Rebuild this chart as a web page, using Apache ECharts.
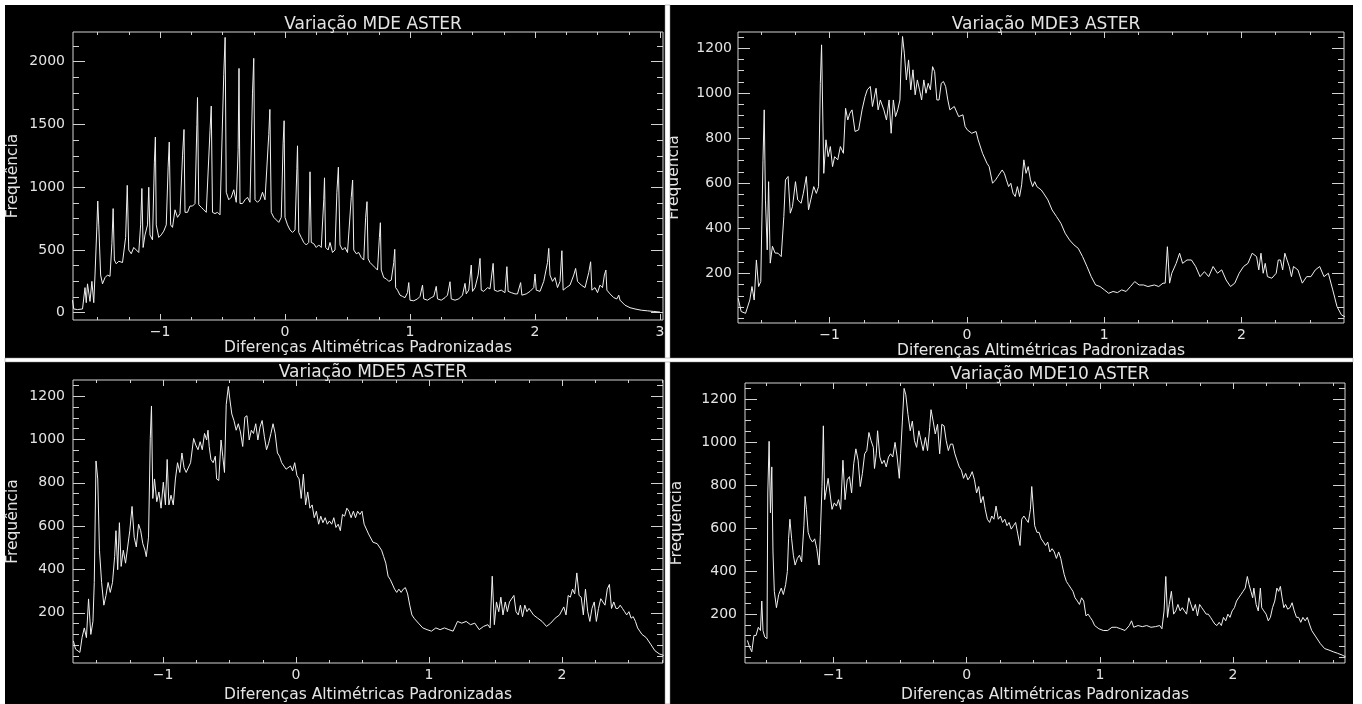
<!DOCTYPE html>
<html>
<head>
<meta charset="utf-8">
<script src="https://cdn.jsdelivr.net/npm/echarts@6/dist/echarts.min.js"></script>
<style>
  html, body { margin: 0; padding: 0; background: #fff; }
  #chart { width: 1362px; height: 704px; }
</style>
</head>
<body>
<div id="chart"></div>
<script>
// Histograms of standardised elevation differences for the ASTER DEM variants.
const titles = ['Variação MDE ASTER', 'Variação MDE3 ASTER', 'Variação MDE5 ASTER', 'Variação MDE10 ASTER'];
const xName = 'Diferenças Altimétricas Padronizadas';
const yName = 'Frequência';

// tick labels
const xTicksTop = [-1, 0, 1, 2, 3];
const xTicksBottom = [-1, 0, 1, 2];
const yTicksMde = [0, 500, 1000, 1500, 2000];
const yTicksFiltered = [200, 400, 600, 800, 1000, 1200];

// [difference, frequency]
const mdeAster = [
  [-1.70,100],[-1.69,30],[-1.66,25],[-1.62,30],[-1.60,200],[-1.59,80],[-1.58,230],[-1.56,90],
  [-1.545,250],[-1.53,80],[-1.52,300],[-1.505,690],[-1.498,890],[-1.49,700],[-1.475,300],[-1.46,230],
  [-1.44,280],[-1.42,300],[-1.40,290],[-1.385,550],[-1.375,830],[-1.365,420],[-1.35,390],[-1.33,410],
  [-1.30,400],[-1.275,600],[-1.262,1015],[-1.25,500],[-1.23,470],[-1.21,520],[-1.19,500],[-1.17,480],
  [-1.155,700],[-1.145,990],[-1.135,520],[-1.12,620],[-1.10,700],[-1.09,1000],[-1.08,620],[-1.06,580],
  [-1.045,1200],[-1.037,1400],[-1.03,700],[-1.01,600],[-0.99,620],[-0.97,650],[-0.95,700],[-0.935,1160],
  [-0.926,1360],[-0.915,700],[-0.90,680],[-0.88,820],[-0.86,760],[-0.84,790],[-0.82,1250],[-0.808,1460],
  [-0.80,800],[-0.78,800],[-0.76,850],[-0.74,850],[-0.72,870],[-0.705,1500],[-0.70,1715],[-0.69,860],
  [-0.67,840],[-0.65,820],[-0.63,800],[-0.60,1450],[-0.59,1647],[-0.58,800],[-0.56,790],[-0.54,800],
  [-0.52,780],[-0.49,1900],[-0.479,2194],[-0.47,960],[-0.45,900],[-0.43,920],[-0.41,980],[-0.39,880],
  [-0.375,1300],[-0.368,1947],[-0.36,870],[-0.34,870],[-0.32,900],[-0.30,920],[-0.28,880],[-0.26,1750],
  [-0.25,2027],[-0.24,900],[-0.22,880],[-0.20,900],[-0.18,960],[-0.16,900],[-0.13,1420],[-0.121,1620],
  [-0.11,800],[-0.09,760],[-0.07,740],[-0.05,720],[-0.03,760],[-0.015,1350],[-0.007,1530],[0.00,760],
  [0.02,700],[0.04,660],[0.06,640],[0.08,660],[0.095,1150],[0.10,1330],[0.11,640],[0.13,600],
  [0.15,560],[0.17,540],[0.19,560],[0.20,1123],[0.21,560],[0.23,550],[0.25,520],[0.27,540],
  [0.29,520],[0.31,900],[0.316,1075],[0.325,520],[0.345,500],[0.36,560],[0.38,480],[0.40,500],
  [0.415,960],[0.427,1160],[0.44,540],[0.46,500],[0.48,520],[0.50,480],[0.53,920],[0.541,1057],
  [0.55,500],[0.57,470],[0.59,480],[0.61,440],[0.63,420],[0.645,760],[0.656,885],[0.665,430],
  [0.68,400],[0.70,380],[0.72,360],[0.74,340],[0.755,600],[0.763,717],[0.77,340],[0.79,280],
  [0.81,270],[0.83,250],[0.85,260],[0.87,400],[0.878,505],[0.885,200],[0.90,180],[0.92,140],
  [0.94,130],[0.96,120],[0.98,160],[0.99,240],[1.00,100],[1.03,95],[1.06,110],[1.08,130],
  [1.10,220],[1.11,110],[1.14,100],[1.17,120],[1.19,130],[1.21,210],[1.22,110],[1.25,100],
  [1.28,120],[1.30,140],[1.32,247],[1.33,110],[1.36,100],[1.39,110],[1.42,140],[1.44,234],
  [1.45,150],[1.47,180],[1.49,380],[1.50,170],[1.52,200],[1.545,300],[1.56,433],[1.57,180],
  [1.59,170],[1.62,200],[1.64,190],[1.665,393],[1.675,180],[1.70,170],[1.73,180],[1.76,160],
  [1.775,367],[1.785,170],[1.81,160],[1.84,150],[1.86,150],[1.885,240],[1.895,140],[1.93,150],
  [1.96,170],[1.99,200],[2.00,308],[2.01,180],[2.04,170],[2.07,250],[2.10,400],[2.11,513],
  [2.12,300],[2.14,250],[2.16,280],[2.18,200],[2.20,250],[2.215,494],[2.225,180],[2.25,200],
  [2.28,220],[2.31,300],[2.325,353],[2.34,250],[2.37,220],[2.40,200],[2.43,320],[2.445,406],
  [2.455,180],[2.48,200],[2.50,160],[2.52,220],[2.54,200],[2.555,300],[2.567,340],[2.575,180],
  [2.60,150],[2.63,120],[2.655,110],[2.67,140],[2.68,100],[2.72,60],[2.76,40],[2.80,30],
  [2.85,20],[2.90,15],[2.95,10],[3.00,5]
];

const mde3Aster = [
  [-1.667,89],[-1.645,30],[-1.613,22],[-1.582,81],[-1.566,141],[-1.550,81],[-1.534,259],[-1.518,141],
  [-1.502,163],[-1.486,700],[-1.477,926],[-1.468,525],[-1.455,304],[-1.445,607],[-1.433,245],[-1.417,320],
  [-1.398,290],[-1.376,289],[-1.353,274],[-1.334,452],[-1.322,615],[-1.303,630],[-1.287,467],[-1.271,496],
  [-1.249,607],[-1.233,526],[-1.208,511],[-1.192,555],[-1.170,630],[-1.154,482],[-1.138,526],[-1.116,585],
  [-1.097,555],[-1.081,585],[-1.068,1044],[-1.059,1215],[-1.043,644],[-1.027,793],[-1.011,718],[-0.995,763],
  [-0.979,674],[-0.964,718],[-0.941,704],[-0.922,763],[-0.900,733],[-0.884,933],[-0.868,881],[-0.853,911],
  [-0.837,926],[-0.815,830],[-0.789,837],[-0.764,926],[-0.742,985],[-0.726,1015],[-0.704,1030],[-0.688,941],
  [-0.662,1022],[-0.647,926],[-0.631,970],[-0.605,926],[-0.586,881],[-0.567,970],[-0.552,822],[-0.536,970],
  [-0.520,896],[-0.504,926],[-0.488,970],[-0.479,1148],[-0.469,1252],[-0.456,1178],[-0.441,1059],[-0.425,1148],
  [-0.409,1015],[-0.393,1104],[-0.377,993],[-0.361,1059],[-0.345,1015],[-0.330,970],[-0.314,1059],[-0.298,1000],
  [-0.282,1044],[-0.266,1015],[-0.250,1118],[-0.235,1096],[-0.219,970],[-0.203,970],[-0.187,1044],[-0.171,1052],
  [-0.155,1030],[-0.139,970],[-0.124,926],[-0.092,941],[-0.060,896],[-0.029,904],[-0.013,852],[0.003,837],
  [0.035,822],[0.067,830],[0.082,793],[0.114,733],[0.146,689],[0.162,674],[0.187,600],[0.209,615],
  [0.225,630],[0.257,659],[0.273,644],[0.288,615],[0.304,585],[0.320,600],[0.336,556],[0.352,541],
  [0.368,585],[0.384,541],[0.399,593],[0.415,704],[0.431,644],[0.447,674],[0.463,615],[0.479,585],
  [0.494,607],[0.510,585],[0.542,570],[0.558,556],[0.590,526],[0.621,481],[0.653,452],[0.685,422],
  [0.716,378],[0.748,348],[0.780,326],[0.811,311],[0.843,274],[0.875,230],[0.906,185],[0.938,148],
  [0.970,141],[1.002,126],[1.033,111],[1.065,119],[1.097,114],[1.128,126],[1.160,119],[1.192,141],
  [1.223,163],[1.255,148],[1.287,148],[1.319,141],[1.366,148],[1.398,141],[1.429,156],[1.445,156],
  [1.461,318],[1.477,156],[1.493,200],[1.525,244],[1.550,289],[1.572,244],[1.604,259],[1.636,259],
  [1.667,230],[1.699,185],[1.731,207],[1.762,185],[1.794,230],[1.826,200],[1.857,215],[1.889,170],
  [1.921,141],[1.952,156],[1.984,200],[2.016,230],[2.048,244],[2.079,289],[2.111,274],[2.127,215],
  [2.143,289],[2.159,200],[2.174,244],[2.190,185],[2.222,178],[2.254,200],[2.269,259],[2.285,259],
  [2.301,215],[2.317,289],[2.333,259],[2.349,230],[2.365,185],[2.380,230],[2.412,215],[2.444,156],
  [2.476,185],[2.507,185],[2.539,215],[2.571,230],[2.602,185],[2.634,200],[2.666,126],[2.697,52],
  [2.729,15],[2.754,7]
];

const mde5Aster = [
  [-1.674,70],[-1.658,32],[-1.625,17],[-1.609,85],[-1.592,130],[-1.576,85],[-1.560,264],[-1.543,100],
  [-1.527,160],[-1.517,340],[-1.504,901],[-1.491,818],[-1.478,489],[-1.462,340],[-1.445,235],[-1.429,280],
  [-1.413,340],[-1.397,294],[-1.380,340],[-1.364,459],[-1.354,579],[-1.341,399],[-1.328,616],[-1.315,414],
  [-1.299,489],[-1.282,429],[-1.266,504],[-1.250,579],[-1.233,691],[-1.217,549],[-1.201,504],[-1.184,609],
  [-1.168,579],[-1.152,519],[-1.136,489],[-1.126,459],[-1.109,549],[-1.096,1005],[-1.087,1155],[-1.077,728],
  [-1.064,818],[-1.047,713],[-1.031,758],[-1.015,683],[-0.998,803],[-0.982,698],[-0.969,908],[-0.956,698],
  [-0.940,743],[-0.923,698],[-0.907,818],[-0.891,893],[-0.874,848],[-0.858,938],[-0.842,870],[-0.826,848],
  [-0.793,893],[-0.770,1005],[-0.754,975],[-0.737,953],[-0.721,990],[-0.705,953],[-0.688,1028],[-0.672,998],
  [-0.662,1043],[-0.653,968],[-0.640,908],[-0.623,893],[-0.607,923],[-0.597,818],[-0.581,811],[-0.564,998],
  [-0.551,923],[-0.538,848],[-0.525,1162],[-0.509,1245],[-0.496,1178],[-0.483,1118],[-0.467,1088],[-0.450,1043],
  [-0.434,1073],[-0.418,1035],[-0.401,968],[-0.385,1103],[-0.369,1110],[-0.352,998],[-0.336,1043],[-0.320,1028],
  [-0.303,1073],[-0.287,998],[-0.271,1058],[-0.255,1088],[-0.238,1013],[-0.222,953],[-0.206,983],[-0.189,1028],
  [-0.173,1073],[-0.157,1028],[-0.140,938],[-0.124,923],[-0.108,893],[-0.075,863],[-0.042,878],[-0.026,855],
  [-0.010,893],[0.007,833],[0.023,818],[0.039,728],[0.055,840],[0.072,698],[0.088,758],[0.104,683],
  [0.121,698],[0.137,639],[0.153,669],[0.170,609],[0.186,646],[0.202,616],[0.219,639],[0.235,609],
  [0.251,624],[0.268,609],[0.284,639],[0.300,594],[0.317,609],[0.333,579],[0.349,654],[0.365,646],
  [0.382,683],[0.398,669],[0.414,639],[0.431,669],[0.447,639],[0.463,669],[0.480,654],[0.496,669],
  [0.512,609],[0.545,564],[0.578,526],[0.610,519],[0.643,489],[0.659,459],[0.675,429],[0.692,369],
  [0.708,354],[0.741,309],[0.757,294],[0.773,309],[0.790,294],[0.806,309],[0.822,316],[0.839,287],
  [0.855,235],[0.871,190],[0.887,175],[0.920,152],[0.953,130],[0.985,122],[1.018,115],[1.051,130],
  [1.083,122],[1.116,130],[1.149,122],[1.181,115],[1.214,160],[1.246,152],[1.279,160],[1.312,145],
  [1.344,152],[1.377,122],[1.410,137],[1.442,145],[1.459,130],[1.475,369],[1.491,145],[1.507,250],
  [1.524,205],[1.540,272],[1.556,190],[1.573,250],[1.589,205],[1.605,250],[1.638,280],[1.654,205],
  [1.671,190],[1.687,235],[1.703,182],[1.720,235],[1.736,205],[1.752,220],[1.785,190],[1.817,175],
  [1.850,160],[1.883,137],[1.915,152],[1.948,175],[1.981,190],[2.013,227],[2.030,190],[2.046,280],
  [2.062,272],[2.079,309],[2.095,287],[2.111,384],[2.128,280],[2.144,272],[2.160,190],[2.176,309],
  [2.193,205],[2.209,160],[2.225,220],[2.242,250],[2.258,160],[2.274,220],[2.291,265],[2.307,250],
  [2.323,235],[2.340,309],[2.356,331],[2.372,220],[2.389,250],[2.405,220],[2.421,220],[2.437,235],
  [2.454,220],[2.470,205],[2.486,190],[2.503,205],[2.519,175],[2.535,182],[2.552,160],[2.568,130],
  [2.601,100],[2.633,85],[2.666,55],[2.698,25],[2.731,10],[2.764,3]
];

const mde10Aster = [
  [-1.645,78],[-1.629,48],[-1.612,25],[-1.596,101],[-1.580,101],[-1.563,139],[-1.547,124],[-1.537,261],
  [-1.528,124],[-1.515,94],[-1.498,86],[-1.492,763],[-1.482,1003],[-1.472,671],[-1.462,884],[-1.453,489],
  [-1.443,306],[-1.427,230],[-1.410,291],[-1.391,321],[-1.375,291],[-1.358,337],[-1.345,398],[-1.336,550],
  [-1.326,641],[-1.313,550],[-1.300,474],[-1.287,428],[-1.270,459],[-1.254,474],[-1.238,443],[-1.221,611],
  [-1.212,747],[-1.202,687],[-1.189,580],[-1.173,550],[-1.156,535],[-1.140,550],[-1.124,504],[-1.107,428],
  [-1.098,565],[-1.085,793],[-1.075,1075],[-1.065,732],[-1.052,732],[-1.039,831],[-1.026,824],[-1.010,687],
  [-0.993,717],[-0.977,702],[-0.961,732],[-0.945,687],[-0.928,915],[-0.912,732],[-0.896,824],[-0.879,839],
  [-0.863,763],[-0.847,899],[-0.831,968],[-0.814,915],[-0.798,793],[-0.782,854],[-0.765,945],[-0.749,960],
  [-0.733,1044],[-0.717,1006],[-0.700,975],[-0.691,877],[-0.678,945],[-0.668,1052],[-0.651,930],[-0.635,899],
  [-0.619,915],[-0.603,884],[-0.586,930],[-0.570,945],[-0.554,930],[-0.537,998],[-0.521,930],[-0.505,831],
  [-0.495,945],[-0.482,1097],[-0.469,1249],[-0.456,1219],[-0.440,1128],[-0.423,1052],[-0.407,1097],[-0.391,1006],
  [-0.375,975],[-0.358,1052],[-0.342,1006],[-0.326,960],[-0.309,1021],[-0.293,960],[-0.277,1067],[-0.267,1150],
  [-0.251,1097],[-0.235,1037],[-0.218,1082],[-0.202,945],[-0.186,1082],[-0.169,1075],[-0.153,1006],[-0.137,960],
  [-0.121,990],[-0.104,990],[-0.088,945],[-0.072,915],[-0.055,884],[-0.039,869],[-0.023,831],[-0.007,854],
  [0.010,824],[0.026,839],[0.042,862],[0.059,824],[0.075,763],[0.091,793],[0.107,717],[0.124,747],
  [0.140,687],[0.156,641],[0.173,626],[0.189,656],[0.205,641],[0.221,702],[0.238,641],[0.254,656],
  [0.270,626],[0.287,641],[0.303,611],[0.319,626],[0.335,595],[0.352,611],[0.368,626],[0.384,573],
  [0.401,519],[0.414,641],[0.430,656],[0.446,641],[0.463,626],[0.479,687],[0.489,793],[0.498,717],
  [0.511,611],[0.528,580],[0.544,580],[0.560,550],[0.577,535],[0.593,519],[0.609,535],[0.625,489],
  [0.642,504],[0.658,489],[0.674,459],[0.691,489],[0.707,459],[0.717,428],[0.733,383],[0.749,352],
  [0.765,337],[0.782,321],[0.798,306],[0.814,276],[0.831,261],[0.847,245],[0.863,276],[0.879,261],
  [0.896,192],[0.912,200],[0.928,185],[0.945,169],[0.961,147],[0.993,132],[1.026,124],[1.059,124],
  [1.091,139],[1.124,139],[1.156,132],[1.189,124],[1.221,147],[1.238,169],[1.254,139],[1.287,147],
  [1.319,142],[1.352,147],[1.384,139],[1.417,142],[1.450,147],[1.466,132],[1.482,215],[1.495,375],
  [1.508,185],[1.521,245],[1.537,306],[1.554,200],[1.570,215],[1.586,245],[1.603,215],[1.619,230],
  [1.635,215],[1.651,200],[1.668,276],[1.684,245],[1.700,215],[1.717,245],[1.733,192],[1.749,245],
  [1.765,230],[1.782,215],[1.798,200],[1.814,200],[1.831,185],[1.847,169],[1.863,154],[1.879,147],
  [1.896,162],[1.912,147],[1.928,185],[1.945,169],[1.961,200],[1.977,185],[1.993,215],[2.010,230],
  [2.026,261],[2.042,276],[2.059,291],[2.075,306],[2.091,321],[2.107,375],[2.120,337],[2.134,306],
  [2.147,276],[2.156,321],[2.173,245],[2.189,215],[2.205,321],[2.215,230],[2.231,215],[2.248,200],
  [2.264,169],[2.280,185],[2.296,230],[2.313,261],[2.329,321],[2.342,306],[2.355,329],[2.368,276],
  [2.381,230],[2.394,245],[2.410,223],[2.427,230],[2.443,253],[2.459,215],[2.476,185],[2.492,185],
  [2.508,162],[2.524,185],[2.541,169],[2.557,185],[2.573,154],[2.590,124],[2.622,94],[2.655,63],
  [2.687,40],[2.720,33],[2.752,25],[2.785,18],[2.818,10],[2.844,2]
];

const INK = '#e4e4e4';
const FRAME = '#d2d2d2';
const FONT = 'DejaVu Sans';

// plot frames, axis ranges and ticks of the four histograms
const panels = [
  { title: titles[0], titleY: 21, data: mdeAster, box: [73, 32, 590, 288],
    x: [-1.696, 3.024], y: [-58, 2237], xTicks: xTicksTop, yTicks: yTicksMde, yMinor: 125,
    xNameGap: 1, yNameGap: 52, yLabelMargin: 8 },
  { title: titles[1], titleY: 21, data: mde3Aster, box: [738, 32, 606, 291],
    x: [-1.668, 2.748], y: [-21, 1272], xTicks: xTicksBottom, yTicks: yTicksFiltered, yMinor: 50,
    xNameGap: 4, yNameGap: 56, yLabelMargin: 6 },
  { title: titles[2], titleY: 369, data: mde5Aster, box: [73, 380, 590, 291],
    x: [-1.677, 2.759], y: [-32, 1275], xTicks: xTicksBottom, yTicks: yTicksFiltered, yMinor: 50,
    xNameGap: 10, yNameGap: 52, yLabelMargin: 8 },
  { title: titles[3], titleY: 371, data: mde10Aster, box: [745, 383, 600, 285],
    x: [-1.663, 2.84], y: [-27, 1274], xTicks: xTicksBottom, yTicks: yTicksFiltered, yMinor: 50,
    xNameGap: 10, yNameGap: 60, yLabelMargin: 8 }
];

function steps(range, step) {
  const out = [];
  for (let k = Math.ceil(range[0] / step); k * step <= range[1]; k++) out.push(+(k * step).toFixed(6));
  return out;
}

const fmt = v => (v < 0 ? '\u2212' + Math.abs(v) : String(v));
const option = {
  backgroundColor: '#ffffff',
  animation: false,
  title: [], grid: [], xAxis: [], yAxis: [], series: [],
  graphic: [
    { type: 'rect', z: -100, silent: true, shape: { x: 5, y: 5, width: 1348, height: 699 }, style: { fill: '#000' } },
    { type: 'rect', z: 100, silent: true, shape: { x: 665, y: 5, width: 5, height: 699 }, style: { fill: '#fff', stroke: '#888', lineWidth: 0.5 } },
    { type: 'rect', z: 100, silent: true, shape: { x: 5, y: 358, width: 1348, height: 4 }, style: { fill: '#fff', stroke: '#888', lineWidth: 0.5 } }
  ]
};

panels.forEach((p, i) => {
  const [left, top, width, height] = p.box;
  option.title.push({
    text: p.title, left: left + width / 2, top: p.titleY - 10, textAlign: 'center',
    textStyle: { color: INK, fontFamily: FONT, fontSize: 17, fontWeight: 'normal' }
  });
  option.grid.push({ left, top, width, height, show: true, borderColor: FRAME, borderWidth: 1, backgroundColor: 'transparent' });

  const xMinor = steps(p.x, 0.25);
  const yMinor = steps(p.y, p.yMinor);
  const xMajLen = Math.round(height * 0.022), yMajLen = Math.round(width * 0.02);
  const base = { gridIndex: i, type: 'value', axisLine: { show: false, onZero: false }, splitLine: { show: false } };
  const xb = { ...base, min: p.x[0], max: p.x[1] };
  const yb = { ...base, min: p.y[0], max: p.y[1] };
  const tick = (vals, len) => ({ show: true, inside: true, length: len, customValues: vals, lineStyle: { color: FRAME, width: 1 } });
  const noLabel = { show: false };

  const xStart = option.xAxis.length, yStart = option.yAxis.length;
  option.xAxis.push(
    { ...xb, position: 'bottom', axisTick: tick(p.xTicks, xMajLen),
      axisLabel: { customValues: p.xTicks, formatter: fmt, color: INK, fontFamily: FONT, fontSize: 14, margin: 5 },
      name: xName, nameLocation: 'middle', nameGap: p.xNameGap + 14,
      nameTextStyle: { color: INK, fontFamily: FONT, fontSize: 15.5 } },
    { ...xb, position: 'bottom', axisTick: tick(xMinor, Math.round(xMajLen / 2)), axisLabel: noLabel },
    { ...xb, position: 'top', axisTick: tick(p.xTicks, xMajLen), axisLabel: noLabel },
    { ...xb, position: 'top', axisTick: tick(xMinor, Math.round(xMajLen / 2)), axisLabel: noLabel }
  );
  option.yAxis.push(
    { ...yb, position: 'left', axisTick: tick(p.yTicks, yMajLen),
      axisLabel: { customValues: p.yTicks, formatter: fmt, color: INK, fontFamily: FONT, fontSize: 14, margin: p.yLabelMargin },
      name: yName, nameLocation: 'middle', nameGap: p.yNameGap, nameRotate: 90,
      nameTextStyle: { color: INK, fontFamily: FONT, fontSize: 15.5 } },
    { ...yb, position: 'left', axisTick: tick(yMinor, Math.round(yMajLen / 2)), axisLabel: noLabel },
    { ...yb, position: 'right', axisTick: tick(p.yTicks, yMajLen), axisLabel: noLabel },
    { ...yb, position: 'right', axisTick: tick(yMinor, Math.round(yMajLen / 2)), axisLabel: noLabel }
  );
  option.series.push({
    type: 'line', xAxisIndex: xStart, yAxisIndex: yStart, data: p.data,
    showSymbol: false, symbol: 'none', clip: true,
    lineStyle: { color: '#f0f0f0', width: 1 }
  });
});

const chart = echarts.init(document.getElementById('chart'), null, { renderer: 'canvas' });
chart.setOption(option);
</script>
</body>
</html>
